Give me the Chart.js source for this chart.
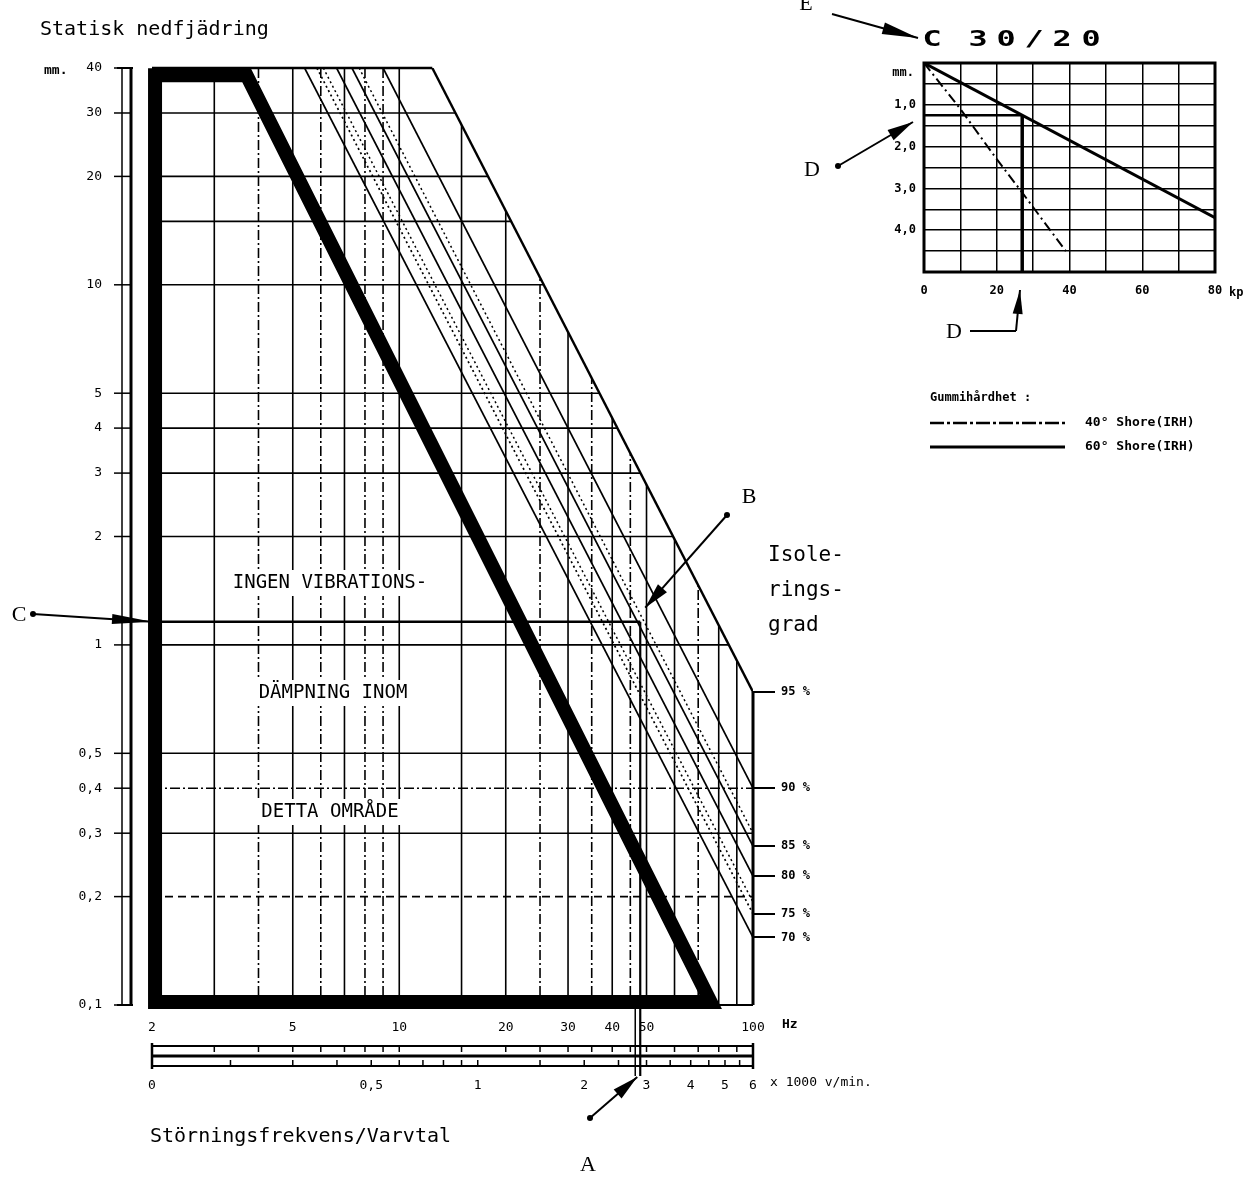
<!DOCTYPE html>
<html><head><meta charset="utf-8">
<script src="https://cdn.jsdelivr.net/npm/chart.js@4.4.1/dist/chart.umd.min.js"></script>
<style>
html,body{margin:0;padding:0;background:#fff;}
#wrap{position:relative;width:1252px;height:1177px;overflow:hidden;background:#fff;}
#main{position:absolute;left:0;top:0;}
#inset{position:absolute;left:870px;top:20px;}
</style></head><body>
<div id="wrap">
<canvas id="main" width="1252" height="1177"></canvas>
<canvas id="inset" width="382" height="300"></canvas>
</div>
<script>
// ================= DATA =================
// main chart: frequency (Hz, log) vs static deflection (mm, log)
const freqTicks  = [2, 5, 10, 20, 30, 40, 50, 100];
const freqLabels = ['2', '5', '10', '20', '30', '40', '50', '100'];
const rpmTicks   = [0, 0.5, 1, 2, 3, 4, 5, 6];           // x 1000 v/min
const rpmLabels  = ['0', '0,5', '1', '2', '3', '4', '5', '6'];
const deflTicks  = [40, 30, 20, 10, 5, 4, 3, 2, 1, 0.5, 0.4, 0.3, 0.2, 0.1];
const deflLabels = ['40', '30', '20', '10', '5', '4', '3', '2', '1', '0,5', '0,4', '0,3', '0,2', '0,1'];
const gridFreq   = [3, 4, 5, 6, 7, 8, 9, 10, 15, 20, 25, 30, 35, 40, 45, 50, 60, 70, 80, 90];
const gridDefl   = [30, 20, 15, 10, 5, 4, 3, 2, 1, 0.5, 0.4, 0.3, 0.2];
const railHz     = [3, 4, 5, 6, 7, 8, 9, 10, 15, 20, 25, 30, 35, 40, 45, 50, 60, 70, 80, 90];
const railRpm    = [0.2, 0.3, 0.4, 0.5, 0.6, 0.7, 0.8, 0.9, 1, 1.5, 2, 2.5, 3, 3.5, 4, 4.5, 5, 5.5, 6];
// isolation-degree lines: frequency where the line meets 40 mm, deflection where it meets 100 Hz
const isoLabels    = ['95 %', '90 %', '85 %', '80 %', '75 %', '70 %'];
const isoTopFreq   = [12.4, 9.0, 7.35, 6.65, 5.85, 5.4];
const isoRightDefl = [0.74, 0.40, 0.276, 0.228, 0.179, 0.154];
const midTopFreq   = [6.1, 7.7];
const midRightDefl = [0.193, 0.30];
// region without isolation (thick outline)
const noIsoFreq = [2.04, 3.7, 75.9, 2.04, 2.04];
const noIsoDefl = [38.2, 38.2, 0.102, 0.102, 38.2];
// example reading (A / B / C)
const readFreq = 48;
const readDefl = 1.16;
// inset C 30/20: load (kp) vs deflection (mm)
const loadTicks       = [0, 10, 20, 30, 40, 50, 60, 70, 80];
const loadLabels      = ['0', '', '20', '', '40', '', '60', '', '80'];
const insetDeflTicks  = [0, 0.5, 1, 1.5, 2, 2.5, 3, 3.5, 4, 4.5, 5];
const insetDeflLabels = ['', '', '1,0', '', '2,0', '', '3,0', '', '4,0', '', ''];
const shore60Load = [0, 80];
const shore60Defl = [0, 3.7];
const shore40Load = [0, 10, 20, 27, 39];
const shore40Defl = [0, 1.1, 2.3, 3.1, 4.5];
const readLoad = 27;
const readInsetDefl = 1.25;

// ================= STYLE =================
const MONO = '"DejaVu Sans Mono", monospace';
const SERIF = '"Liberation Serif", serif';
const freqStyle = {3:'s',4:'dd',5:'s',6:'dd',7:'s',8:'dd',9:'dd',10:'s',15:'s',20:'s',25:'dd',30:'s',35:'dd',40:'s',45:'dd',50:'s',60:'s',70:'dd',80:'s',90:'s'};
const deflStyle = {0.4:'dd', 0.2:'d'};
function dashOf(k){ return k === 'dd' ? [10,3,2,3] : (k === 'd' ? [8,5] : []); }
function line(ctx,x1,y1,x2,y2){ ctx.beginPath(); ctx.moveTo(x1,y1); ctx.lineTo(x2,y2); ctx.stroke(); }
function arrow(ctx,x1,y1,x2,y2,hl,hw,dot){
  line(ctx,x1,y1,x2,y2);
  const a = Math.atan2(y2-y1,x2-x1);
  ctx.beginPath();
  ctx.moveTo(x2,y2);
  ctx.lineTo(x2-hl*Math.cos(a)+hw*Math.sin(a), y2-hl*Math.sin(a)-hw*Math.cos(a));
  ctx.lineTo(x2-hl*Math.cos(a)-hw*Math.sin(a), y2-hl*Math.sin(a)+hw*Math.cos(a));
  ctx.closePath(); ctx.fill();
  if (dot){ ctx.beginPath(); ctx.arc(x1,y1,3,0,Math.PI*2); ctx.fill(); }
}

const pts = (xs, ys) => xs.map((v,i) => ({x:v, y:ys[i]}));

// ================= MAIN CHART =================
const datasets = [];
datasets.push({data: pts(noIsoFreq, noIsoDefl), borderWidth: 14, borderJoinStyle:'miter', borderCapStyle:'square', clip:false});
isoTopFreq.forEach((f,i) => {
  datasets.push({data: [{x:f, y:40}, {x:100, y:isoRightDefl[i]}],
    borderWidth: i === 0 ? 2.4 : 1.7, borderDash: i === 4 ? [2,3] : []});
});
midTopFreq.forEach((f,i) => {
  datasets.push({data: [{x:f, y:40}, {x:100, y:midRightDefl[i]}], borderWidth:1.5, borderDash:[2,3]});
});
datasets.push({data: [{x:2, y:readDefl}, {x:readFreq, y:readDefl}], borderWidth: 2.6});
datasets.push({data: [{x:readFreq, y:readDefl}, {x:readFreq, y:0.1}], borderWidth: 2.2, clip:false});

const mainPlugin = {
  id: 'mainDraw',
  beforeDatasetsDraw(chart){
    const {ctx, scales:{x, y}} = chart;
    const X = v => x.getPixelForValue(v), Y = v => y.getPixelForValue(v);
    ctx.save();
    ctx.beginPath();
    ctx.moveTo(X(2), Y(40)); ctx.lineTo(X(isoTopFreq[0]), Y(40));
    ctx.lineTo(X(100), Y(isoRightDefl[0])); ctx.lineTo(X(100), Y(0.1));
    ctx.lineTo(X(2), Y(0.1)); ctx.closePath();
    ctx.clip();
    ctx.strokeStyle = '#000'; ctx.lineWidth = 1.6;
    gridFreq.forEach(f => { ctx.setLineDash(dashOf(freqStyle[f])); line(ctx, X(f), Y(40), X(f), Y(0.1)); });
    gridDefl.forEach(d => { ctx.setLineDash(dashOf(deflStyle[d])); line(ctx, X(2), Y(d), X(100), Y(d)); });
    ctx.restore();
  },
  afterDatasetsDraw(chart){
    const {ctx, scales:{x, y}} = chart;
    const X = v => x.getPixelForValue(v), Y = v => y.getPixelForValue(v);
    ctx.save();
    ctx.fillStyle = '#000'; ctx.strokeStyle = '#000';
    ctx.setLineDash([]);
    // frame pieces
    ctx.lineWidth = 2.5; line(ctx, X(2), Y(40), X(isoTopFreq[0]), Y(40));
    ctx.lineWidth = 3;   line(ctx, X(100), Y(isoRightDefl[0]), X(100), Y(0.1));
    ctx.lineWidth = 2;   line(ctx, X(noIsoFreq[2]), Y(0.1), X(100), Y(0.1));
    // left deflection rail
    const top = Y(40), bot = Y(0.1);
    ctx.lineWidth = 1.5; line(ctx, 122, top, 122, bot);
    ctx.lineWidth = 3;   line(ctx, 131, top, 131, bot);
    ctx.lineWidth = 2;   line(ctx, 117, top, 133, top); line(ctx, 117, bot, 133, bot);
    ctx.lineWidth = 1.5;
    deflTicks.forEach(d => line(ctx, 114, Y(d), 131, Y(d)));
    // bottom frequency / rpm rail
    const rl = X(2), rr = X(100);
    ctx.lineWidth = 2; ctx.strokeRect(rl, 1046, rr - rl, 20);
    ctx.lineWidth = 3; line(ctx, rl, 1056, rr, 1056);
    ctx.lineWidth = 1.5;
    railHz.forEach(f => line(ctx, X(f), 1046, X(f), 1052));
    railRpm.forEach(r => line(ctx, X(r*1000/60), 1060, X(r*1000/60), 1066));
    ctx.lineWidth = 2.5; line(ctx, rl, 1043, rl, 1069); line(ctx, rr, 1043, rr, 1069);
    // A reading line through the rail
    ctx.lineWidth = 2.2; line(ctx, X(readFreq), Y(0.1), X(readFreq), 1076);
    ctx.lineWidth = 1.5; line(ctx, X(readFreq) - 5, Y(0.1), X(readFreq) - 5, 1076);

    // texts
    ctx.textBaseline = 'middle';
    ctx.textAlign = 'left';
    ctx.font = '20px ' + MONO;
    ctx.fillText('Statisk nedfjädring', 40, 30);
    ctx.fillText('Störningsfrekvens/Varvtal', 150, 1137);
    ctx.font = 'bold 13px ' + MONO;
    ctx.fillText('mm.', 44, 71);
    ctx.fillText('Hz', 782, 1025);
    ctx.font = '13px ' + MONO;
    ctx.fillText('x 1000 v/min.', 770, 1083);
    ctx.font = '21px ' + MONO;
    ctx.fillText('Isole-', 768, 556);
    ctx.fillText('rings-', 768, 591);
    ctx.fillText('grad', 768, 626);

    // region text
    ctx.font = '19px ' + MONO;
    ctx.textAlign = 'center';
    [['INGEN VIBRATIONS-', 330, 583], ['DÄMPNING INOM', 333, 693], ['DETTA OMRÅDE', 330, 812]].forEach(t => {
      const w = ctx.measureText(t[0]).width;
      ctx.fillStyle = '#fff'; ctx.fillRect(t[1] - w/2 - 6, t[2] - 13, w + 12, 26);
      ctx.fillStyle = '#000'; ctx.fillText(t[0], t[1], t[2]);
    });

    // letters A B C D
    ctx.font = '22px ' + SERIF;
    ctx.fillText('A', 588, 1165);
    ctx.fillText('B', 749, 497);
    ctx.fillText('C', 19, 615);
    ctx.fillText('D', 812, 170);
    ctx.fillText('D', 954, 332);
    ctx.fillText('E', 806, 4);

    // arrows
    ctx.lineWidth = 2;
    arrow(ctx, 33, 614, X(2), Y(readDefl), 40, 5, true);
    arrow(ctx, 727, 515, X(readFreq) + 5, Y(readDefl) - 14, 26, 6, true);
    arrow(ctx, 590, 1118, X(readFreq) - 3, 1077, 26, 6, true);
    arrow(ctx, 838, 166, 913, 122, 26, 6, true);
    arrow(ctx, 832, 14, 918, 38, 36, 6, false);
    line(ctx, 970, 331, 1016, 331);
    arrow(ctx, 1016, 331, 1020, 290, 24, 5, false);

    // inset title
    ctx.font = 'bold 22px ' + MONO;
    ctx.textAlign = 'center';
    ['C', '3', '0', '/', '2', '0'].forEach((c, i) => {
      const cx = [932, 978, 1006, 1034, 1062, 1091][i];
      ctx.save(); ctx.translate(cx, 41); ctx.scale(1.45, 0.95); ctx.fillText(c, 0, 0); ctx.restore();
    });

    // inset legend
    ctx.textAlign = 'left';
    ctx.font = 'bold 12px ' + MONO;
    ctx.fillText('Gummihårdhet :', 930, 398);
    ctx.lineWidth = 2.5; ctx.setLineDash([14,3,3,3]); line(ctx, 930, 423, 1065, 423);
    ctx.setLineDash([]); ctx.lineWidth = 3; line(ctx, 930, 447, 1065, 447);
    ctx.font = 'bold 13px ' + MONO;
    ctx.fillText('40° Shore(IRH)', 1085, 423);
    ctx.fillText('60° Shore(IRH)', 1085, 447);
    ctx.restore();
  }
};

const tickFont = {family: MONO, size: 13};
new Chart(document.getElementById('main'), {
  type: 'line',
  data: {datasets},
  options: {
    responsive: false, animation: false, devicePixelRatio: 1,
    layout: {padding: {left: 0, top: 68, right: 399, bottom: 80}},
    plugins: {legend: {display: false}, tooltip: {enabled: false}},
    elements: {point: {radius: 0}, line: {tension: 0, borderColor: '#000', fill: false}},
    scales: {
      x: {type: 'logarithmic', position: 'bottom', min: 2, max: 100, weight: 0,
          afterBuildTicks: ax => { ax.ticks = freqTicks.map(v => ({value: v})); },
          afterFit: s => { s.height = 30; },
          ticks: {callback: (v, i) => freqLabels[i], autoSkip: false, maxRotation: 0, padding: 7, color: '#000', font: tickFont},
          grid: {display: false}, border: {display: false}},
      x2: {type: 'logarithmic', position: 'bottom', min: 2, max: 100, weight: 1,
          afterBuildTicks: ax => { ax.ticks = rpmTicks.map(r => ({value: Math.max(2, r*1000/60)})); },
          afterFit: s => { s.height = 62; },
          ticks: {callback: (v, i) => rpmLabels[i], autoSkip: false, maxRotation: 0, padding: 35, color: '#000', font: tickFont},
          grid: {display: false}, border: {display: false}},
      y: {type: 'logarithmic', position: 'left', min: 0.1, max: 40,
          afterBuildTicks: ax => { ax.ticks = deflTicks.map(v => ({value: v})); },
          afterFit: s => { s.width = 152; },
          ticks: {callback: (v, i) => deflLabels[i], autoSkip: false, padding: 42, color: '#000', font: tickFont},
          grid: {display: false}, border: {display: false}},
      y2: {type: 'logarithmic', position: 'right', min: 0.1, max: 40,
          afterBuildTicks: ax => { ax.ticks = isoRightDefl.map(v => ({value: v})); },
          afterFit: s => { s.width = 100; },
          ticks: {callback: (v, i) => isoLabels[i], autoSkip: false, padding: 6, color: '#000', font: {family: MONO, size: 12, weight: 'bold'}},
          grid: {drawOnChartArea: false, drawTicks: true, tickLength: 22, color: '#000', lineWidth: 2},
          border: {display: false}}
    }
  },
  plugins: [mainPlugin]
});

// ================= INSET CHART =================
const insetPlugin = {
  id: 'insetFrame',
  afterDatasetsDraw(chart){
    const {ctx, chartArea: a} = chart;
    ctx.save();
    ctx.strokeStyle = '#000'; ctx.lineWidth = 3;
    ctx.strokeRect(a.left, a.top, a.right - a.left, a.bottom - a.top);
    ctx.fillStyle = '#000'; ctx.textBaseline = 'middle';
    ctx.font = 'bold 12px ' + MONO; ctx.textAlign = 'right';
    ctx.fillText('mm.', a.left - 10, a.top + 10);
    ctx.textAlign = 'left';
    ctx.fillText('kp', a.right + 14, a.bottom + 21);
    ctx.restore();
  }
};
new Chart(document.getElementById('inset'), {
  type: 'line',
  data: {datasets: [
    {data: pts(shore60Load, shore60Defl), borderWidth: 3},
    {data: pts(shore40Load, shore40Defl), borderWidth: 2, borderDash: [10,4,2,4]},
    {data: [{x: 0, y: readInsetDefl}, {x: readLoad, y: readInsetDefl}], borderWidth: 2.6},
    {data: [{x: readLoad, y: readInsetDefl}, {x: readLoad, y: 5}], borderWidth: 3.5}
  ]},
  options: {
    responsive: false, animation: false, devicePixelRatio: 1,
    layout: {padding: {left: 0, top: 43, right: 37, bottom: 18}},
    plugins: {legend: {display: false}, tooltip: {enabled: false}},
    elements: {point: {radius: 0}, line: {tension: 0, borderColor: '#000', fill: false}},
    scales: {
      x: {type: 'linear', min: 0, max: 80,
          afterBuildTicks: ax => { ax.ticks = loadTicks.map(v => ({value: v})); },
          afterFit: s => { s.height = 30; },
          ticks: {callback: (v, i) => loadLabels[i], autoSkip: false, maxRotation: 0, padding: 12, color: '#000', font: {family: MONO, size: 12, weight: 'bold'}},
          grid: {color: '#000', lineWidth: 1.5, drawTicks: false}, border: {display: false}},
      y: {type: 'linear', reverse: true, min: 0, max: 5,
          afterBuildTicks: ax => { ax.ticks = insetDeflTicks.map(v => ({value: v})); },
          afterFit: s => { s.width = 54; },
          ticks: {callback: (v, i) => insetDeflLabels[i], autoSkip: false, padding: 8, color: '#000', font: {family: MONO, size: 12, weight: 'bold'}},
          grid: {color: '#000', lineWidth: 1.5, drawTicks: false}, border: {display: false}}
    }
  },
  plugins: [insetPlugin]
});
</script>
</body></html>
